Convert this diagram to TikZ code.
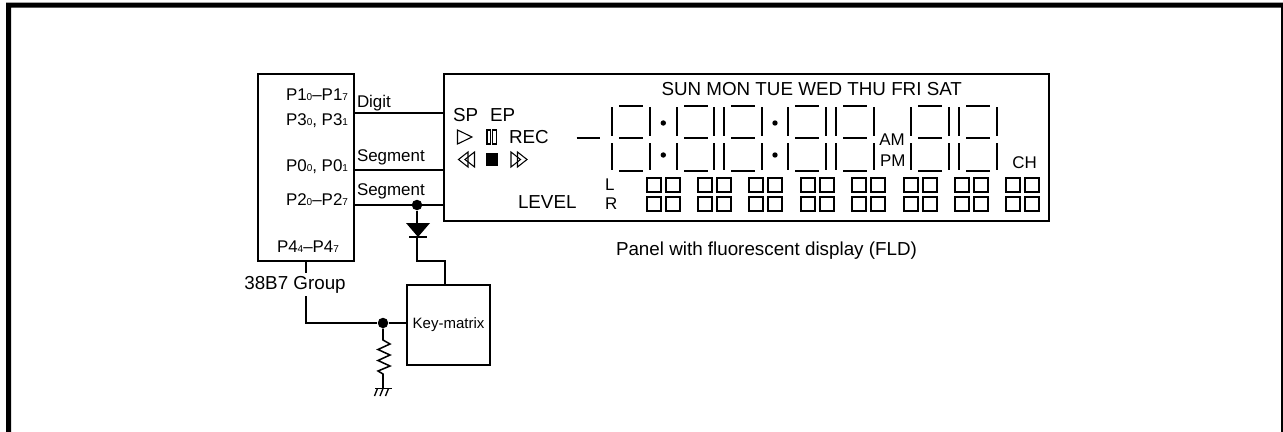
\documentclass[tikz,border=0pt]{standalone}
\usepackage{fontspec}
\setmainfont{Liberation Sans}
\newcommand{\fa}{\fontsize{14.1pt}{16pt}\selectfont}
\newcommand{\fb}{\fontsize{12.7pt}{14pt}\selectfont}
\newcommand{\fc}{\fontsize{11.25pt}{13pt}\selectfont}
\newcommand{\sbs}[1]{{\fontsize{7.5pt}{8pt}\selectfont #1}}
\tikzset{
  wire/.style={line width=1.15pt,black},
  seg/.style={line width=1.15pt,black,line cap=butt},
  box/.style={draw,line width=1.15pt,black,outer sep=0pt},
  lbl/.style={inner sep=0pt,outer sep=0pt,text=black},
  big/.style={lbl,font=\fa},
  mid/.style={lbl,font=\fb},
  blob/.style={circle,fill=black,inner sep=0pt,minimum size=10.5*0.75pt},
  sym/.style={line width=0.8pt,black,line join=miter},
}
\begin{document}
\begin{tikzpicture}[x=0.75pt,y=-0.75pt]
\useasboundingbox (0,0) rectangle (1283,432);
% frame
\fill[black] (6,432) -- (6,2.5) -- (1283,2.5) -- (1283,432) -- (1281,432) -- (1281,7.5) -- (11,7.5) -- (11,432) -- cycle;
% boxes
\node[box,minimum width=96*0.75pt,minimum height=187*0.75pt,inner sep=0pt,anchor=north west] (mcu) at (258,74) {};
\node[box,minimum width=605*0.75pt,minimum height=147*0.75pt,inner sep=0pt,anchor=north west] (panel) at (444,74) {};
\node[box,minimum width=83*0.75pt,minimum height=80*0.75pt,inner sep=0pt,anchor=north west,font=\fc] (key) at (407,285) {Key-matrix};
% connector anchors
\coordinate (d1) at (354,113); \coordinate (d2) at (444,113);
\coordinate (s1) at (354,170); \coordinate (s2) at (444,170);
\coordinate (t1) at (354,205); \coordinate (t2) at (444,205);
\draw[wire] (d1) -- (d2);
\draw[wire] (s1) -- (s2);
\draw[wire] (t1) -- (t2);
% junction and diode
\node[blob] (j1) at (417,205) {};
\coordinate (dt) at (417,223); \coordinate (dk) at (417,237);
\coordinate (kt) at (445,285); \coordinate (be) at (417,261); \coordinate (be2) at (445,261);
\draw[wire] (j1) -- (dt);
\fill[black] (406,223) -- (430,223) -- (418,237) -- cycle;
\draw[wire] (409,237) -- (427,237);
\draw[wire] (dk) -- (be) -- (be2) -- (kt);
% lower left
\coordinate (p4) at (306,261); \coordinate (cr) at (306,323);
\node[blob] (j2) at (383,323) {};
\draw[wire] (p4) -- (cr) -- (j2) -- (key.west |- j2);
\node[big,fill=white,inner ysep=2pt,anchor=base] (grp) at (295,289) {38B7 Group};
% resistor + ground
\draw[wire,line join=miter] (j2) -- (383,340) -- (390,344) -- (378,349.5) -- (390,355) -- (378,360.5) -- (390,366) -- (378,371) -- (383,374) -- (383,388);
\draw[wire] (375,388.5) -- (392,388.5);
\draw[line width=1pt] (377.5,388.5) -- (374.5,396) (383,388.5) -- (380,396) (388.5,388.5) -- (385.5,396);
% MCU texts
\node[mid,anchor=base east] (p1) at (348,100.5) {P1\sbs{0}–P1\sbs{7}};
\node[mid,anchor=base east] (p3) at (348,125) {P3\sbs{0}, P3\sbs{1}};
\node[mid,anchor=base east] (p0) at (348,171) {P0\sbs{0}, P0\sbs{1}};
\node[mid,anchor=base east] (p2) at (348,205.5) {P2\sbs{0}–P2\sbs{7}};
\node[mid,anchor=base west] (p44) at (277,252.5) {P4\sbs{4}–P4\sbs{7}};
\node[mid,anchor=base west] (ldig) at (357,107) {Digit};
\node[mid,anchor=base west] (lseg1) at (357,161) {Segment};
\node[mid,anchor=base west] (lseg2) at (357,195.5) {Segment};
% panel texts
\node[big,anchor=base west] (sp) at (453,121.5) {SP};
\node[big,anchor=base west] (ep) at (490,121.5) {EP};
\node[big,anchor=base west] (rec) at (509,143.3) {REC};
\node[big,anchor=base west] (lev) at (518,208.3) {LEVEL};
\node[big,anchor=base west] (days) at (661.5,95.5) {SUN MON TUE WED THU FRI SAT};
\node[mid,anchor=base west] (am) at (879.3,145) {AM};
\node[mid,anchor=base west] (pm) at (880,166) {PM};
\node[mid,anchor=base west] (ch) at (1012.3,168.7) {CH};
\node[lbl,font=\fb,anchor=base west] (ll) at (605,190.7) {L};
\node[lbl,font=\fb,anchor=base west] (rr) at (605,209.3) {R};
\node[big,anchor=base west] (cap) at (616,255) {Panel with fluorescent display (FLD)};
% transport symbols
\draw[sym] (457.5,130) -- (472,137) -- (457.5,144) -- cycle;
\draw[sym] (487,130) rectangle (490.5,144);
\draw[sym] (492.7,130) rectangle (496.2,144);
\draw[sym] (468,152) -- (458.5,159.5) -- (468,167) -- cycle;
\draw[sym] (474.5,152) -- (465,159.5) -- (474.5,167) -- cycle;
\fill[black] (486,153.3) rectangle (498.3,165.7);
\draw[sym] (511,152) -- (520.5,159.5) -- (511,167) -- cycle;
\draw[sym] (517.5,152) -- (527,159.5) -- (517.5,167) -- cycle;
% digits
\foreach \a/\b in {612/650,677/714,724/762,788/826,836/874,911/949,959/997}{
  \draw[seg] (\a,107) -- (\a,136) (\a,143) -- (\a,170);
  \draw[seg] (\b,107) -- (\b,136) (\b,143) -- (\b,170);
  \draw[seg] (\a+7,106) -- (\a+31,106) (\a+7,138) -- (\a+31,138) (\a+7,171) -- (\a+31,171);
}
\draw[seg] (576.5,138) -- (600,138);
\foreach \x in {663.3,775}{
  \fill (\x,123) circle (2.7);
  \fill (\x,155) circle (2.7);
}
% level squares
\foreach \i in {0,...,7}{
  \pgfmathsetmacro{\xa}{round(646.7+51.4*\i)}
  \foreach \dx in {0,19}{
    \draw[box] (\xa+\dx,178) rectangle ++(14,14);
    \draw[box] (\xa+\dx,197) rectangle ++(14,14);
  }
}
\end{tikzpicture}
\end{document}
